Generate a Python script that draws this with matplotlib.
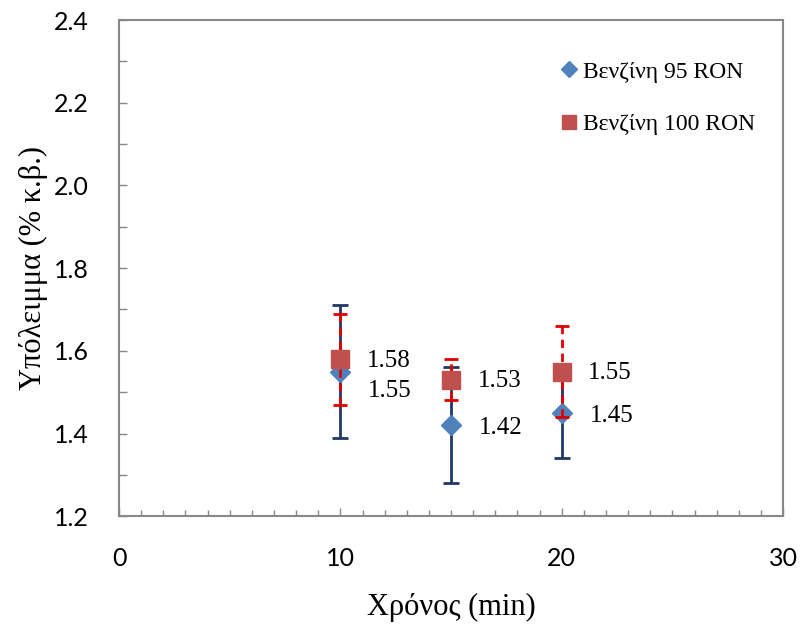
import matplotlib.pyplot as plt
from matplotlib.ticker import MultipleLocator

time = [10, 15, 20]
ron95 = [1.55, 1.42, 1.45]
ron95_err = [0.16, 0.14, 0.11]
ron100 = [1.58, 1.53, 1.55]
ron100_err = [0.11, 0.05, 0.11]
labels95 = ['1.55', '1.42', '1.45']
labels100 = ['1.58', '1.53', '1.55']

serif = 'Liberation Serif'

fig = plt.figure(figsize=(8.01, 6.28), dpi=100)
ax = fig.add_axes([0.1486, 0.178, 0.829, 0.790])

eb1 = ax.errorbar(time, ron95, yerr=ron95_err, fmt='D', color='#4F81BD', ms=10,
                  ecolor='#1F3864', elinewidth=2, capsize=6, capthick=2,
                  label='Βενζίνη 95 RON', zorder=3)
eb2 = ax.errorbar(time, ron100, yerr=ron100_err, fmt='s', color='#C0504D', ms=13,
                  ecolor='#E00000', elinewidth=2, capsize=5, capthick=2,
                  label='Βενζίνη 100 RON', zorder=4)
eb2[2][0].set_linestyle((0, (3, 2)))

for i, (x, y) in enumerate(zip(time, ron95)):
    dy = -14 if i == 0 else -2
    ax.annotate(labels95[i], (x, y), xytext=(20, dy), textcoords='offset points',
                ha='left', va='center', fontsize=18, family=serif)
for i, (x, y) in enumerate(zip(time, ron100)):
    ax.annotate(labels100[i], (x, y), xytext=(19, -1), textcoords='offset points',
                ha='left', va='center', fontsize=18, family=serif)

ax.set_xlim(0, 30)
ax.set_ylim(1.2, 2.4)
ax.xaxis.set_major_locator(MultipleLocator(10))
ax.xaxis.set_minor_locator(MultipleLocator(1))
ax.yaxis.set_major_locator(MultipleLocator(0.2))
ax.yaxis.set_minor_locator(MultipleLocator(0.1))
ax.yaxis.set_major_formatter(plt.FuncFormatter(lambda v, p: f'{v:.1f}'))

ax.tick_params(which='both', direction='in', top=False, right=False, color='#888888')
ax.tick_params(which='major', length=6, width=1)
ax.tick_params(which='minor', length=4, width=1)
ax.tick_params(axis='y', which='minor', length=6)
ax.tick_params(axis='x', which='major', pad=22)
ax.tick_params(axis='y', which='major', pad=22)
for lab in ax.get_xticklabels() + ax.get_yticklabels():
    lab.set_fontfamily('Lato')
    lab.set_fontsize(18)
for s in ax.spines.values():
    s.set_color('#888888')
    s.set_linewidth(1.5)

ax.set_xlabel('Χρόνος (min)', fontsize=22, family=serif, labelpad=17)
ax.set_ylabel('Υπόλειμμα (% κ.β.)', fontsize=22, family=serif, labelpad=4)

leg = ax.legend(handles=[eb1[0], eb2[0]], labels=['Βενζίνη 95 RON', 'Βενζίνη 100 RON'],
                loc='upper right', bbox_to_anchor=(0.99, 0.96), frameon=False,
                prop={'family': serif, 'size': 17}, handlelength=0.8,
                handletextpad=0.2, labelspacing=1.3, markerscale=0.8)

fig.savefig('out.png', dpi=100)
